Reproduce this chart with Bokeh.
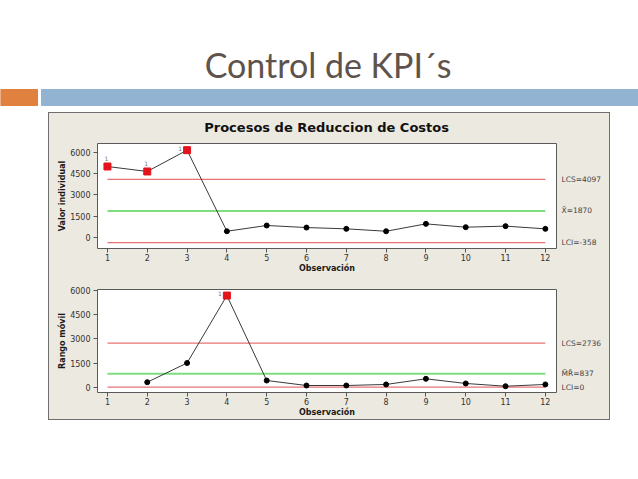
from bokeh.plotting import figure
from bokeh.models import (Range1d, LinearAxis, FixedTicker, Spacer, Row, Column)
from bokeh.core.properties import value
from bokeh.embed import file_html
from bokeh.resources import INLINE

# ---------------- data ----------------
obs = [1, 2, 3, 4, 5, 6, 7, 8, 9, 10, 11, 12]
valor_individual = [5000, 4650, 6150, 440, 845, 700, 610, 440, 960, 725, 800, 610]
obs_mr = [2, 3, 4, 5, 6, 7, 8, 9, 10, 11, 12]
rango_movil = [310, 1500, 5680, 415, 105, 105, 170, 520, 230, 60, 170]

i_limits = {"LCS": 4097, "media": 1870, "LCI": -358}
mr_limits = {"LCS": 2736, "media": 837, "LCI": 0}
i_limit_labels = ["LCS=4097", "X\u0304=1870", "LCI=-358"]
mr_limit_labels = ["LCS=2736", "M\u0304R\u0304=837", "LCI=0"]

i_flagged = [1, 2, 3]          # observations out of control (test 1)
mr_flagged = [4]
flag_text = "1"

y_ticks = [0, 1500, 3000, 4500, 6000]
page_title = "Control de KPI\u00b4s"
chart_title = "Procesos de Reduccion de Costos"
x_label = "Observación"
i_label = "Valor individual"
mr_label = "Rango móvil"

BEIGE = "#ECE9E1"
RED = "#E87272"
GREEN = "#7FDC7F"
FONT = "DejaVu Sans"


def blank(width, height, fill):
    f = figure(width=width, height=height, x_range=Range1d(0, width), y_range=Range1d(height, 0),
               output_backend="svg", toolbar_location=None, min_border=0)
    f.axis.visible = False
    f.grid.visible = False
    f.outline_line_color = None
    f.background_fill_color = fill
    f.border_fill_color = fill
    return f


# ---------------- header ----------------
hdr = blank(638, 112, "white")
hdr.quad(left=[0], right=[37], top=[89], bottom=[105], color="#E0813F")
hdr.quad(left=[41], right=[640], top=[89], bottom=[105], color="#93B3D3")
hdr.text(x=[327.5], y=[64], text=[page_title], text_align="center", text_baseline="alphabetic",
         text_font=value("Lato"), text_font_size="34px", text_color="#5F534D")

# ---------------- panel title ----------------
ttl = blank(560, 28, BEIGE)
ttl.text(x=[279.5], y=[14], text=[chart_title], text_align="center", text_baseline="middle",
         text_font=value(FONT), text_font_size="13px", text_font_style="bold", text_color="#111111")


def control_chart(xs, ys, flagged, limits, labels, ylabel, yr, height, top, bottom):
    frame_h = height - top - bottom
    p = figure(width=560, height=height, frame_width=459, frame_height=frame_h,
               x_range=Range1d(0.75, 12.28), y_range=Range1d(*yr),
               output_backend="svg", toolbar_location=None,
               min_border_left=48, min_border_right=53, min_border_top=top, min_border_bottom=bottom)
    p.border_fill_color = BEIGE
    p.background_fill_color = "white"
    p.outline_line_color = "#5A5A5A"
    p.grid.visible = False
    for ax in (p.xaxis[0], p.yaxis[0]):
        ax.axis_line_color = None
        ax.major_tick_out = 4
        ax.major_tick_in = 0
        ax.minor_tick_line_color = None
        ax.major_tick_line_color = "#555555"
        ax.major_label_text_font = FONT
        ax.major_label_text_font_size = "8px"
        ax.major_label_text_color = "#333333"
        ax.axis_label_text_font = FONT
        ax.axis_label_text_font_size = "8px"
        ax.axis_label_text_font_style = "bold"
        ax.axis_label_text_color = "#1A1A1A"
    p.xaxis.major_label_standoff = 1
    p.xaxis.axis_label_standoff = 0
    p.yaxis.major_label_standoff = 3
    p.yaxis.axis_label_standoff = 0
    p.xaxis.ticker = FixedTicker(ticks=obs)
    p.yaxis.ticker = FixedTicker(ticks=y_ticks)
    p.xaxis.axis_label = x_label
    p.yaxis.axis_label = ylabel

    vals = [limits["LCS"], limits["media"], limits["LCI"]]
    x0, x1 = obs[0], obs[-1]
    p.line([x0, x1], [limits["LCS"]] * 2, color=RED, line_width=1.2)
    p.line([x0, x1], [limits["LCI"]] * 2, color=RED, line_width=1.2)
    p.line([x0, x1], [limits["media"]] * 2, color=GREEN, line_width=2)

    p.line(xs, ys, color="#3A3A3A", line_width=1)
    normal = [(x, y) for x, y in zip(xs, ys) if x not in flagged]
    bad = [(x, y) for x, y in zip(xs, ys) if x in flagged]
    p.scatter([a for a, _ in normal], [b for _, b in normal], marker="circle", size=5, color="black")
    p.scatter([a for a, _ in bad], [b for _, b in bad], marker="square", size=7, color="#E3141C")

    # flag "1" labels: above the square, or to its left when too close to the frame top
    px_per_unit = frame_h / (yr[1] - yr[0])
    for a, b in bad:
        room = (yr[1] - b) * px_per_unit
        if room > 14:
            xo, yo, al = -1, -8, "center"
        else:
            xo, yo, al = -5, -2, "right"
        p.text([a], [b], text=[flag_text], x_offset=xo, y_offset=yo,
               text_align=al, text_baseline="middle", text_font=value(FONT),
               text_font_size="6px", text_color="#777777")

    rax = LinearAxis(ticker=FixedTicker(ticks=vals),
                     major_label_overrides={v: t for v, t in zip(vals, labels)})
    rax.axis_line_color = None
    rax.major_tick_line_color = None
    rax.major_tick_out = 0
    rax.major_tick_in = 0
    rax.minor_tick_line_color = None
    rax.major_label_standoff = 5
    rax.major_label_text_font = FONT
    rax.major_label_text_font_size = "7.5px"
    rax.major_label_text_color = "#444444"
    p.add_layout(rax, "right")
    return p


p1 = control_chart(obs, valor_individual, i_flagged, i_limits, i_limit_labels, i_label,
                   (-775, 6620), 138, 2, 31)
p2 = control_chart(obs_mr, rango_movil, mr_flagged, mr_limits, mr_limit_labels, mr_label,
                   (-329, 6057), 139, 10, 26)

box = Column(children=[ttl, p1, p2], spacing=0,
             styles={"border": "1px solid #6E6E6E", "background-color": BEIGE})
body = Row(children=[Spacer(width=48, height=10), box], spacing=0)
page = Column(children=[hdr, body], spacing=0)

open("out.html", "w").write(file_html(page, INLINE))
